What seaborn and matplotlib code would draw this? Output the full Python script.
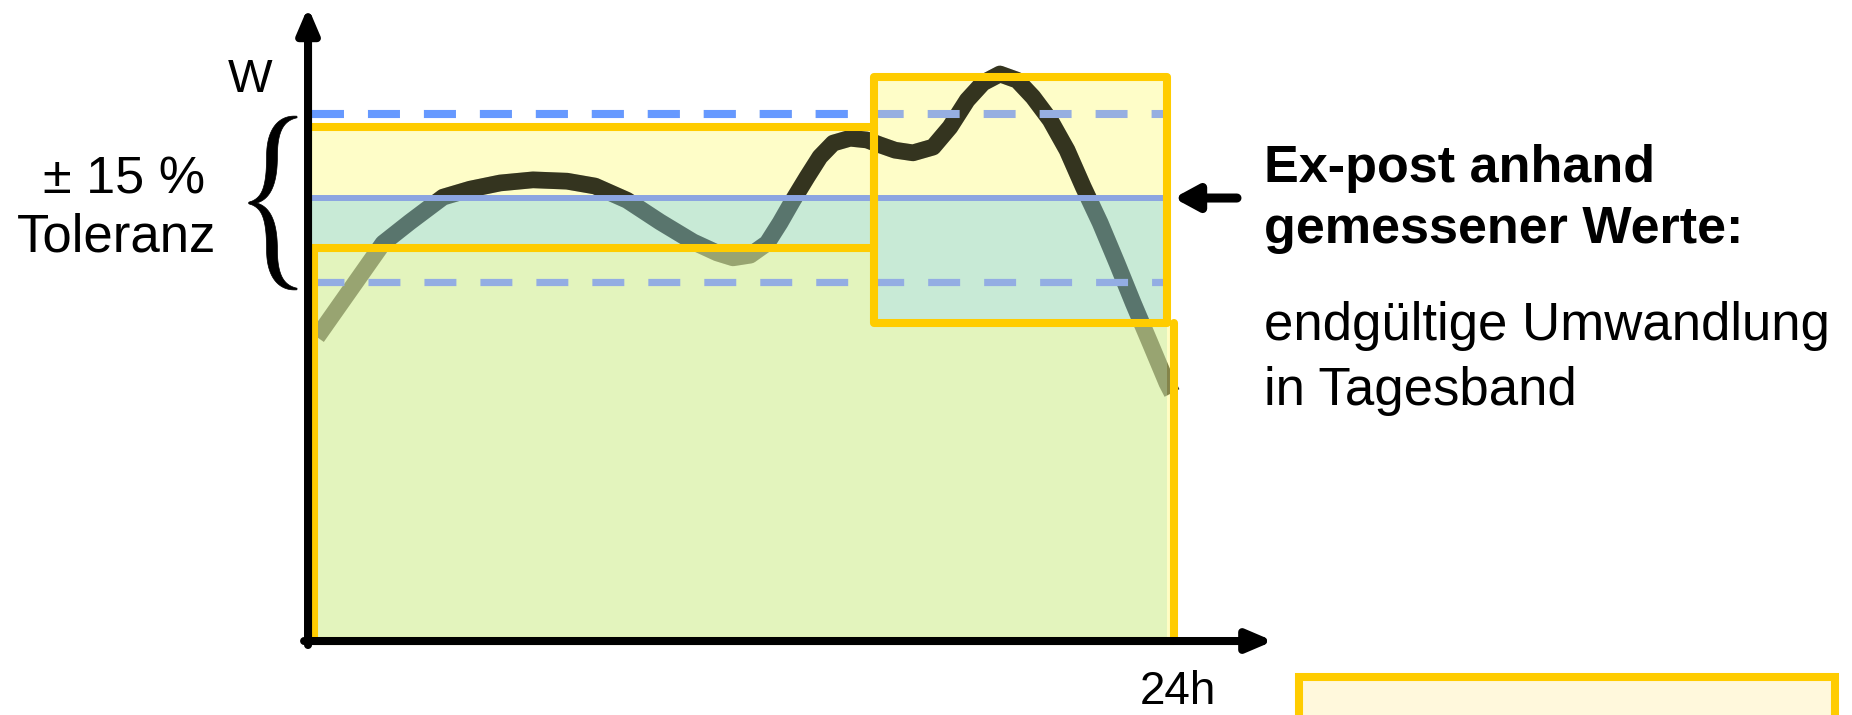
import numpy as np
import pandas as pd
import seaborn as sns
import matplotlib.pyplot as plt
from matplotlib.patches import Rectangle, Polygon

# -----------------------------
# Daten: Lastgang über den Tag, W in % des Tagesbands
# -----------------------------
hours = [0.25, 1.17, 2.09, 2.84, 3.76, 4.51, 5.35, 6.26, 7.21, 7.99, 8.88, 9.80,
         10.72, 11.39, 11.83, 12.31, 12.78, 13.14, 13.50, 13.89, 14.25, 14.62,
         15.09, 15.56, 15.92, 16.34, 16.84, 17.40, 17.87, 18.35, 18.79, 19.26,
         19.74, 20.18, 20.66, 21.13, 21.58, 22.05, 22.52, 22.97, 23.44, 23.91, 24.05]
load = [68.6, 79.2, 89.8, 94.6, 100.2, 102.0, 103.4, 104.1, 103.8, 102.7, 99.5, 94.6,
        90.1, 87.6, 86.5, 87.1, 89.8, 94.4, 99.5, 104.7, 109.3, 112.4,
        113.5, 113.1, 112.0, 110.8, 110.2, 111.5, 116.0, 122.1, 126.0, 128.0,
        126.6, 122.8, 117.6, 110.8, 102.5, 94.4, 85.3, 76.3, 67.3, 58.2, 56.0]

# Prognose-Bänder (zwei Zeitblöcke)
band_start = [0.0, 15.75]
band_end = [15.75, 23.9]
band_low = [88.7, 71.8]
band_high = [116.0, 127.3]

# endgültiges Tagesband und Toleranz
day_band = 100
tol_upper = 119
tol_lower = 81
day_start = 0.0
outer_left, outer_right = 0.17, 24.12

df = pd.DataFrame({'Stunde': hours, 'W': load})

# -----------------------------
# Figur
# -----------------------------
sns.set_theme(style='white')
plt.rcParams['font.family'] = ['Liberation Sans', 'DejaVu Sans']
plt.rcParams['text.color'] = 'black'
plt.rcParams['lines.scale_dashes'] = False

W_PX, H_PX = 1852, 715
fig = plt.figure(figsize=(W_PX / 100, H_PX / 100), dpi=100)
ax = fig.add_axes([0, 0, 1, 1])

YELLOW = '#ffcc00'
CURVE = '#34341f'
edge_lw = 5.8

# helle Bandflächen
for x0, x1, lo, hi in zip(band_start, band_end, band_low, band_high):
    ax.add_patch(Rectangle((x0, lo), x1 - x0, hi - lo, facecolor='#fefdc8',
                           edgecolor='none', zorder=1))

# Lastgang (unter den transparenten Flächen)
sns.lineplot(data=df, x='Stunde', y='W', ax=ax, color=CURVE, linewidth=12,
             sort=False, estimator=None, zorder=3, legend=False)
ax.lines[-1].set_solid_capstyle('butt')
ax.lines[-1].set_solid_joinstyle('round')

# Tagesband (blau transparent)
ax.add_patch(Rectangle((day_start, 0), band_end[1] - day_start, day_band,
                       facecolor='#93d8e4', alpha=0.5, edgecolor='none', zorder=4))

# untere Fläche
bottom_poly = [(outer_left, 0), (outer_left, band_low[0]), (band_end[0], band_low[0]),
               (band_end[0], band_low[1]), (outer_right, band_low[1]), (outer_right, 0)]
ax.add_patch(Polygon(bottom_poly, closed=True, facecolor='#fffd8b', alpha=0.5,
                     edgecolor='none', zorder=5))

# Lastgang leicht darüber (Raster-Effekt)
sns.lineplot(data=df, x='Stunde', y='W', ax=ax, color=CURVE, linewidth=12,
             sort=False, estimator=None, zorder=5.5, legend=False, alpha=0.2)
ax.lines[-1].set_solid_capstyle('butt')
ax.lines[-1].set_solid_joinstyle('round')

# Toleranzlinien
dash = (0, (23, 17.3))
ax.hlines(tol_upper, day_start + 0.1, band_end[1] - 0.1, colors='#96afe1',
          linewidth=5.8, linestyles=[dash], zorder=6)
ax.hlines(tol_upper, day_start + 0.1, band_end[0], colors='#6699ff',
          linewidth=5.8, linestyles=[dash], zorder=6.5)
ax.hlines(tol_lower, day_start + 0.1, band_end[1] - 0.1, colors='#93ade3',
          linewidth=5.2, linestyles=[dash], zorder=6)
ax.hlines(day_band, day_start + 0.1, band_end[1], colors='#8ca5e1',
          linewidth=4.3, zorder=6)

# gelbe Rahmen
ax.plot([day_start, band_end[0], band_end[0], day_start],
        [band_high[0], band_high[0], band_low[0], band_low[0]],
        color=YELLOW, lw=edge_lw, solid_joinstyle='round', zorder=7)
ax.add_patch(Rectangle((band_start[1], band_low[1]), band_end[1] - band_start[1],
                       band_high[1] - band_low[1], fill=False, edgecolor=YELLOW,
                       lw=edge_lw, joinstyle='round', zorder=7))
ax.plot([outer_left, outer_left, outer_right, outer_right],
        [band_low[0], 0, 0, band_low[1]],
        color=YELLOW, lw=edge_lw, solid_joinstyle='round', zorder=7)

# Achsen mit Pfeilen
head = '-|>,head_length=0.75,head_width=0.32'
ax.annotate('', xy=(0, 143.1), xytext=(0, -0.9),
            arrowprops=dict(arrowstyle=head, mutation_scale=20, lw=5.8,
                            color='black', shrinkA=0, shrinkB=0), zorder=9)
ax.annotate('', xy=(26.87, 0), xytext=(-0.11, 0),
            arrowprops=dict(arrowstyle=head, mutation_scale=20, lw=5.8,
                            color='black', shrinkA=0, shrinkB=0), zorder=9)

# Pfeil auf das Tagesband
ax.annotate('', xy=(24.1, day_band), xytext=(25.86, day_band),
            arrowprops=dict(arrowstyle='-|>,head_length=0.7,head_width=0.38',
                            mutation_scale=20, lw=6.5, color='black',
                            shrinkA=0, shrinkB=0), zorder=9)

ax.set_xlim(-8.575, 42.98)
ax.set_ylim(-16.7, 144.7)
ax.axis('off')


def fx(px):
    return px / W_PX


def fy(py):
    return 1 - py / H_PX


# geschweifte Klammer (±15 %)
def bez(p0, p1, p2, p3, n=40):
    t = np.linspace(0, 1, n)[:, None]
    p0, p1, p2, p3 = map(np.asarray, (p0, p1, p2, p3))
    return (1 - t) ** 3 * p0 + 3 * (1 - t) ** 2 * t * p1 + 3 * (1 - t) * t ** 2 * p2 + t ** 3 * p3


arm = np.vstack([bez((297, 117), (280, 118), (272, 132), (272, 156)),
                 bez((272, 156), (272, 188), (265, 201), (249, 203))[1:]])
lower = arm[::-1].copy()
lower[:, 1] = 406 - lower[:, 1]
brace_pts = []
for a in (arm, lower):
    s = np.linspace(0, 1, len(a))
    w = 0.8 + 4.6 * np.sin(np.pi * s)
    d = np.gradient(a, axis=0)
    nrm = np.stack([-d[:, 1], d[:, 0]], axis=1)
    nrm /= np.linalg.norm(nrm, axis=1)[:, None]
    brace_pts.append((a + nrm * w[:, None], a - nrm * w[:, None]))
left_side = np.vstack([brace_pts[0][0], brace_pts[1][0]])
right_side = np.vstack([brace_pts[0][1], brace_pts[1][1]])
outline = np.vstack([left_side, right_side[::-1]])
outline_fig = np.column_stack([outline[:, 0] / W_PX, 1 - outline[:, 1] / H_PX])
fig.patches.append(Polygon(outline_fig, closed=True, transform=fig.transFigure,
                           facecolor='black', edgecolor='black', lw=0.5))

# Beschriftungen
fig.text(fx(250), fy(92), 'W', fontsize=34, ha='center', va='baseline')
fig.text(fx(124), fy(194), '± 15 %', fontsize=37.5, ha='center', va='baseline')
fig.text(fx(117), fy(252), 'Toleranz', fontsize=38, ha='center', va='baseline')

fig.text(fx(1264), fy(182), 'Ex-post anhand', fontsize=37.5, fontweight='bold',
         va='baseline')
fig.text(fx(1264), fy(243), 'gemessener Werte:', fontsize=37.5, fontweight='bold',
         va='baseline')
fig.text(fx(1264), fy(340), 'endgültige Umwandlung', fontsize=38, va='baseline')
fig.text(fx(1264), fy(405), 'in Tagesband', fontsize=38, va='baseline')
fig.text(fx(1140), fy(704), '24h', fontsize=33, va='baseline')

# Kasten unten rechts (angeschnitten)
fig.patches.append(Rectangle((fx(1299), fy(780)), fx(1835) - fx(1299), fy(677) - fy(780),
                             transform=fig.transFigure, facecolor='#fff8dc',
                             edgecolor=YELLOW, lw=5.8, zorder=1))

fig.savefig('out.png', dpi=100, facecolor='white')
